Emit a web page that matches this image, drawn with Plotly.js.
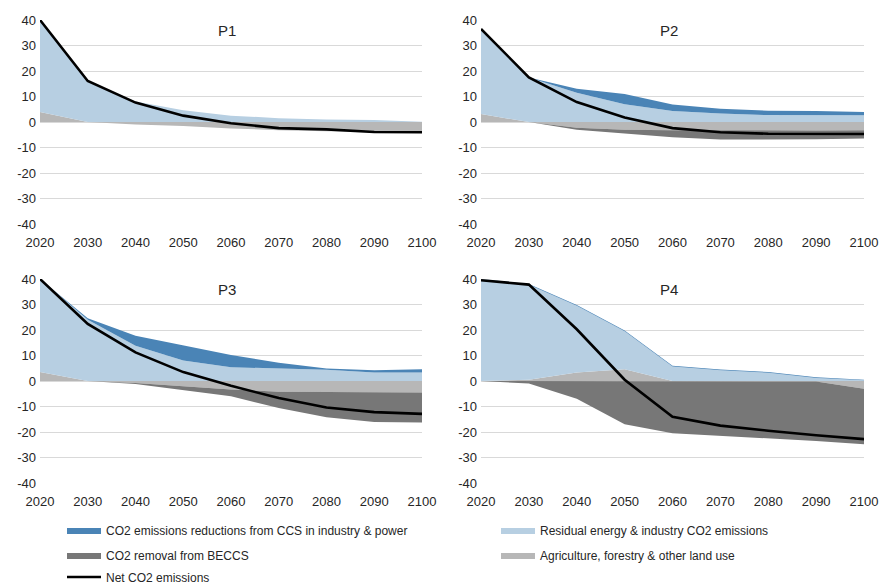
<!DOCTYPE html>
<html>
<head>
<meta charset="utf-8">
<script src="https://cdn.plot.ly/plotly-3.0.1.min.js"></script>
<style>
  html, body { margin: 0; padding: 0; background: #fff; }
  #chart { width: 880px; height: 586px; }
</style>
</head>
<body>
<div id="chart"></div>
<script>
// ---- Data (Gt CO2 / yr) ----
const years = [2020, 2030, 2040, 2050, 2060, 2070, 2080, 2090, 2100];
const panelNames = ["P1", "P2", "P3", "P4"];

// P1
const residualP1 = [36.1, 16.0, 8.0, 4.6, 2.5, 1.5, 1.0, 0.8, 0.1];
const ccsP1      = [0, 0, 0, 0, 0, 0, 0, 0, 0];
const agriP1     = [3.9, 0, -1.0, -1.6, -2.5, -3.2, -3.6, -3.9, -4.0];
const beccsP1    = [0, 0, 0, 0, 0, 0, 0, 0, 0];
const netP1      = [40, 16.1, 7.6, 2.5, -0.5, -2.4, -2.9, -3.9, -4.0];

// P2
const residualP2 = [33.4, 17.5, 11.5, 7.0, 4.3, 3.3, 2.7, 2.6, 2.6];
const ccsP2      = [0, 0, 1.5, 4.0, 2.6, 1.9, 1.7, 1.7, 1.3];
const agriP2     = [3.1, 0, -2.3, -3.0, -3.2, -3.3, -3.3, -3.3, -3.2];
const beccsP2    = [0, 0, -0.7, -1.5, -2.8, -3.6, -3.6, -3.5, -3.3];
const netP2      = [36.5, 17.5, 7.8, 1.8, -2.4, -4.0, -4.6, -4.7, -4.7];

// P3
const residualP3 = [36.5, 24.0, 13.8, 8.0, 5.4, 4.9, 4.4, 3.3, 3.3];
const ccsP3      = [0, 0.6, 3.9, 5.8, 4.8, 2.3, 0.5, 0.9, 1.3];
const agriP3     = [3.5, 0, -0.8, -2.0, -3.3, -4.2, -4.3, -4.5, -4.5];
const beccsP3    = [0, 0, -0.4, -1.5, -2.7, -6.4, -9.9, -11.6, -11.8];
const netP3      = [40, 22.4, 11.2, 3.5, -1.9, -6.7, -10.4, -12.2, -12.9];

// P4
const residualP4 = [40.0, 37.2, 26.2, 14.9, 5.7, 4.2, 3.2, 1.2, 0.3];
const ccsP4      = [0, 0.3, 0.3, 0.3, 0.3, 0.3, 0.3, 0.3, 0.2];
const agriP4     = [0, 0.5, 3.3, 4.6, 0, 0, 0, -0.2, -3.0];
const beccsP4    = [0, -1.0, -7.0, -17.0, -20.5, -21.5, -22.5, -23.3, -21.8];
const netP4      = [39.5, 37.8, 20.3, 0.5, -14.0, -17.5, -19.5, -21.3, -22.8];

const yTickVals = [-40, -30, -20, -10, 0, 10, 20, 30, 40];

const seriesNames = {
  ccs: "CO2 emissions reductions from CCS in industry & power",
  residual: "Residual energy & industry CO2 emissions",
  beccs: "CO2 removal from BECCS",
  agri: "Agriculture, forestry & other land use",
  net: "Net CO2 emissions"
};
const colors = {
  ccs: "#4a84b6",
  residual: "#b7cfe2",
  beccs: "#777777",
  agri: "#b7b7b7",
  net: "#000000"
};

const panels = [
  {res: residualP1, ccs: ccsP1, agri: agriP1, beccs: beccsP1, net: netP1},
  {res: residualP2, ccs: ccsP2, agri: agriP2, beccs: beccsP2, net: netP2},
  {res: residualP3, ccs: ccsP3, agri: agriP3, beccs: beccsP3, net: netP3},
  {res: residualP4, ccs: ccsP4, agri: agriP4, beccs: beccsP4, net: netP4}
];

// ---- Traces ----
const traces = [];
panels.forEach((p, i) => {
  const xa = i === 0 ? "x" : "x" + (i + 1);
  const ya = i === 0 ? "y" : "y" + (i + 1);
  const first = i === 0;
  const area = (y, key, group, opts) => Object.assign({
    type: "scatter", mode: "lines", x: years, y: y, xaxis: xa, yaxis: ya,
    stackgroup: group + i, line: {width: 0, color: colors[key]},
    fillcolor: colors[key], name: seriesNames[key], legendgroup: key,
    showlegend: false, hoverinfo: "skip"
  }, opts || {});
  // positive stack
  traces.push(area(p.agri.map(v => Math.max(v, 0)), "agri", "pos"));
  traces.push(area(p.res, "residual", "pos", first ? {showlegend: true, legend: "legend2"} : {}));
  traces.push(area(p.ccs, "ccs", "pos", first ? {showlegend: true, legend: "legend"} : {}));
  // negative stack
  traces.push(area(p.agri.map(v => Math.min(v, 0)), "agri", "neg", first ? {showlegend: true, legend: "legend4"} : {}));
  traces.push(area(p.beccs, "beccs", "neg", first ? {showlegend: true, legend: "legend3"} : {}));
  // net line
  traces.push({
    type: "scatter", mode: "lines", x: years, y: p.net, xaxis: xa, yaxis: ya,
    line: {color: colors.net, width: 2.6}, name: seriesNames.net,
    legendgroup: "net", showlegend: first, legend: "legend5", hoverinfo: "skip"
  });
});

// ---- Layout ----
const W = 880, H = 586;
const colX = [[40, 422], [481, 864]];
const rowY = [[20, 224], [279, 483]];
const tickFont = {family: "Liberation Sans, Arial, sans-serif", size: 13, color: "#262626"};

const layout = {
  width: W, height: H,
  margin: {l: 0, r: 0, t: 0, b: 0, autoexpand: false},
  paper_bgcolor: "#ffffff", plot_bgcolor: "#ffffff",
  font: tickFont,
  annotations: []
};

panels.forEach((p, i) => {
  const c = colX[i % 2], r = rowY[Math.floor(i / 2)];
  const sx = i === 0 ? "" : String(i + 1);
  const yDom = [1 - r[1] / H, 1 - r[0] / H];
  layout["xaxis" + sx] = {
    domain: [c[0] / W, c[1] / W], anchor: "y" + sx,
    range: [2020, 2100], tickmode: "array", tickvals: years,
    ticktext: years.map(String), showgrid: false, zeroline: false,
    showline: false, ticks: "", tickfont: tickFont, fixedrange: true,
    ticklabelstandoff: 9
  };
  layout["yaxis" + sx] = {
    domain: yDom, anchor: "x" + sx,
    range: [-40, 40], tickmode: "array", tickvals: yTickVals,
    ticktext: yTickVals.map(String), showgrid: true, gridcolor: "#d9d9d9",
    gridwidth: 1, zeroline: true, zerolinecolor: "#d9d9d9", zerolinewidth: 1,
    showline: false, ticks: "", tickfont: tickFont, fixedrange: true,
    ticklabelstandoff: 3
  };
  // small category tick marks sitting on the zero line (overlay axis)
  const ox = "xaxis" + (i + 5);
  layout[ox] = {
    overlaying: i === 0 ? "x" : "x" + (i + 1),
    domain: [c[0] / W, c[1] / W], anchor: "free",
    position: (yDom[0] + yDom[1]) / 2, side: "bottom",
    range: [2020, 2100], tickmode: "array", tickvals: years,
    ticks: "inside", ticklen: 4, tickwidth: 1, tickcolor: "#e4e4e4",
    showticklabels: false, showgrid: false, zeroline: false, showline: false,
    fixedrange: true
  };
  layout.annotations.push({
    text: panelNames[i], xref: "x" + sx + " domain", yref: "y" + sx + " domain",
    x: 0.49, y: 0.948, xanchor: "center", yanchor: "middle", showarrow: false,
    font: {family: "Liberation Sans, Arial, sans-serif", size: 15, color: "#262626"}
  });
});

const legFont = {family: "Liberation Sans, Arial, sans-serif", size: 12, color: "#262626"};
const legBase = {
  orientation: "h", xanchor: "left", yanchor: "middle",
  xref: "container", yref: "container",
  font: legFont, bgcolor: "rgba(0,0,0,0)", borderwidth: 0,
  traceorder: "normal", itemwidth: 34, itemclick: false, itemdoubleclick: false
};
const legLeftX = 62 / W, legRightX = 496 / W;
layout.legend  = Object.assign({}, legBase, {x: legLeftX,  y: 1 - 530 / H});
layout.legend2 = Object.assign({}, legBase, {x: legRightX, y: 1 - 530 / H});
layout.legend3 = Object.assign({}, legBase, {x: legLeftX,  y: 1 - 555 / H});
layout.legend4 = Object.assign({}, legBase, {x: legRightX, y: 1 - 555 / H});
layout.legend5 = Object.assign({}, legBase, {x: legLeftX,  y: 1 - 577 / H});

Plotly.newPlot("chart", traces, layout, {displayModeBar: false, staticPlot: true});
</script>
</body>
</html>
